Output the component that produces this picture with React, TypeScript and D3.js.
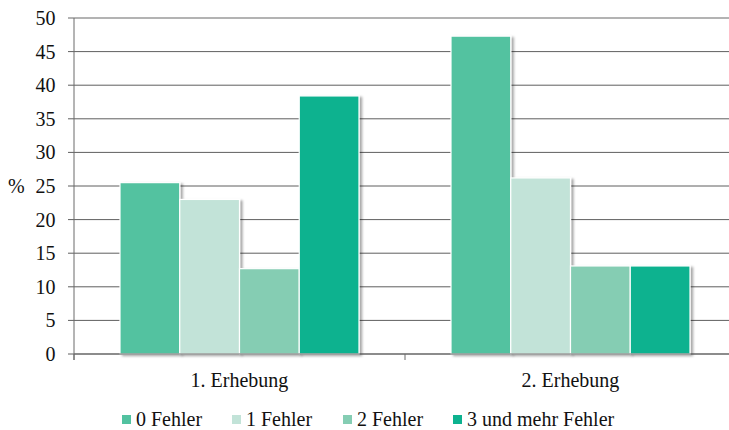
import React from "react";
import * as d3 from "d3";

const categories = ["1. Erhebung", "2. Erhebung"];
const seriesNames = ["0 Fehler", "1 Fehler", "2 Fehler", "3 und mehr Fehler"];
const seriesColors = ["#52c2a0", "#c2e3d8", "#85cdb3", "#0db28f"];
// values[series][category]
const values = [
  [25.5, 47.3],
  [23.0, 26.2],
  [12.7, 13.1],
  [38.4, 13.1],
];
const yTicks = [0, 5, 10, 15, 20, 25, 30, 35, 40, 45, 50];

const W = 729;
const H = 430;
const left = 74;
const right = 736;
const top = 18;
const bottom = 354;
const fs = 20;
const serifFace = '"Times New Roman", "Liberation Serif", Tinos';

function Label(props: {
  x: number;
  y: number;
  anchor?: "start" | "middle" | "end";
  children: React.ReactNode;
}) {
  return (
    <text
      x={props.x}
      y={props.y}
      textAnchor={props.anchor ?? "start"}
      fontSize={fs}
      fill="#111"
      style={{ fontFamily: serifFace }}
    >
      {props.children}
    </text>
  );
}

export default function App() {
  const x0 = d3.scaleBand<string>().domain(categories).range([left, right]).paddingInner(0).paddingOuter(0);
  const groupPad = 46;
  const x1 = d3
    .scaleBand<string>()
    .domain(seriesNames)
    .range([groupPad, x0.bandwidth() - groupPad])
    .padding(0);
  const y = d3.scaleLinear().domain([0, 50]).range([bottom, top]);

  const legendX = [122, 232, 343, 453];

  return (
    <div style={{ position: "absolute", left: 0, top: 0, fontFamily: serifFace }}>
      <svg width={W} height={H} style={{ display: "block", background: "#fff" }}>
        <defs>
          <filter id="barShadow" x="-20%" y="-10%" width="140%" height="120%">
            <feDropShadow dx="2.5" dy="1.5" stdDeviation="1.2" floodColor="#000" floodOpacity="0.35" />
          </filter>
        </defs>

        {/* horizontal gridlines */}
        {yTicks.map((t) => (
          <line
            key={t}
            x1={left - 6}
            x2={W}
            y1={y(t)}
            y2={y(t)}
            stroke={t === 50 ? "#9a9a9a" : "#5f5f5f"}
            strokeWidth={t === 50 ? 1.3 : 1}
          />
        ))}

        {/* y axis */}
        <line x1={left} x2={left} y1={top} y2={bottom + 6} stroke="#6a6a6a" strokeWidth={1} />
        {yTicks.map((t) => (
          <Label key={t} x={55.5} y={y(t) + 7} anchor="end">
            {t}
          </Label>
        ))}
        <Label x={8} y={y(25) + 7}>%</Label>

        {/* bars */}
        {categories.map((c, ci) => (
          <g key={c} transform={`translate(${x0(c)},0)`}>
            {seriesNames.map((s, si) => {
              const v = values[si][ci];
              return (
                <rect
                  key={s}
                  x={x1(s)}
                  y={y(v)}
                  width={x1.bandwidth()}
                  height={y(0) - y(v)}
                  fill={seriesColors[si]}
                  stroke="#fff"
                  strokeWidth={1.2}
                  filter="url(#barShadow)"
                />
              );
            })}
          </g>
        ))}

        {/* x axis */}
        <line x1={left} x2={W} y1={bottom} y2={bottom} stroke="#6a6a6a" strokeWidth={1.2} />
        {categories.map((c) => (
          <line
            key={c}
            x1={x0(c) as number}
            x2={x0(c) as number}
            y1={bottom}
            y2={bottom + 6}
            stroke="#6a6a6a"
            strokeWidth={1}
          />
        ))}
        {categories.map((c) => (
          <Label key={c} x={(x0(c) as number) + x0.bandwidth() / 2} y={387} anchor="middle">
            {c}
          </Label>
        ))}

        {/* legend */}
        {seriesNames.map((s, i) => (
          <g key={s} transform={`translate(${legendX[i]},0)`}>
            <rect x={0} y={415} width={9} height={9} fill={seriesColors[i]} />
            <Label x={14} y={426}>{s}</Label>
          </g>
        ))}
      </svg>
    </div>
  );
}
